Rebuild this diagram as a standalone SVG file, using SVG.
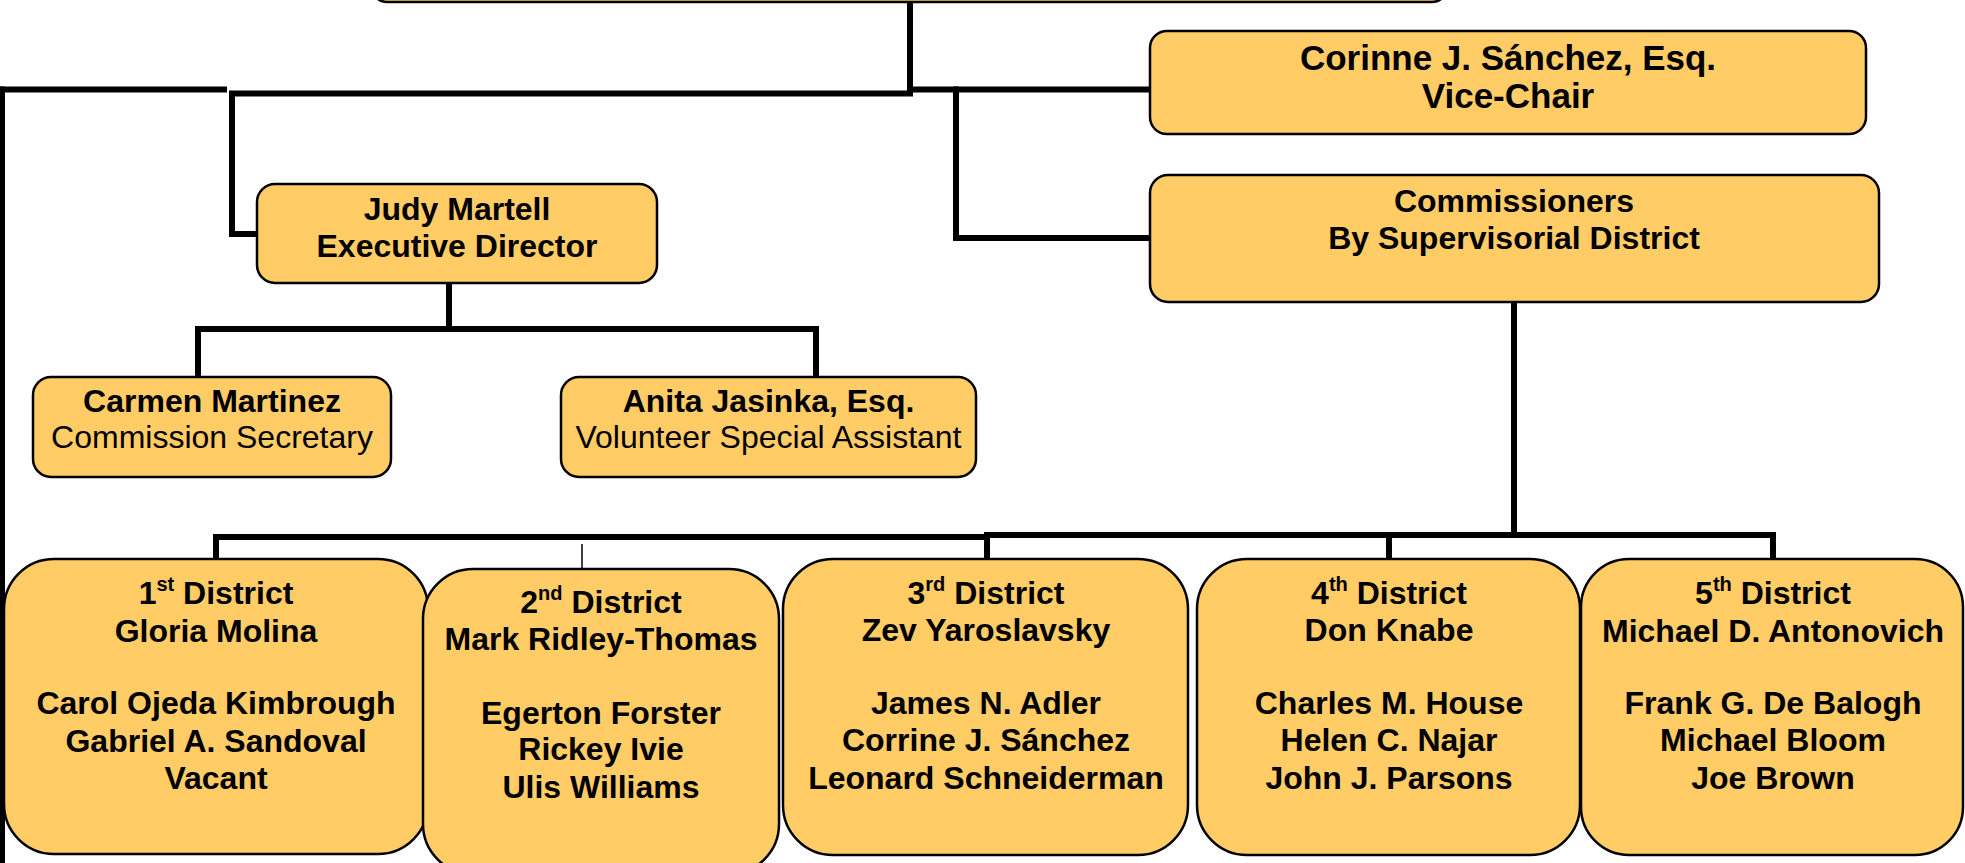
<svg xmlns="http://www.w3.org/2000/svg" width="1965" height="863" viewBox="0 0 1965 863">
<style>
.box{fill:#FFCC66;stroke:#000;stroke-width:2.5}
.ln{stroke:#000;stroke-width:6;fill:none;stroke-linecap:square}
.thin{stroke:#000;stroke-width:1.5;fill:none}
text{font-family:"Liberation Sans",Arial,Helvetica,sans-serif;font-size:32px;text-anchor:middle;fill:#000}
.b{font-weight:bold}
.big{font-size:35px}
.sup{font-size:20px}
</style>
<rect width="1965" height="863" fill="#fff"/>
<g id="connectors">
<path class="ln" d="M910,0 V93.5 H232 V234 H257"/>
<path class="ln" d="M0,89.5 H224"/>
<path class="ln" d="M2,89.5 V863"/>
<path class="ln" d="M910,89.5 H1150"/>
<path class="ln" d="M956,89.5 V238 H1150"/>
<path class="ln" d="M449,283 V329 M198,377 V329 H816 V377"/>
<path class="ln" d="M1514,302 V535"/>
<path class="ln" d="M216,559 V537 H987 M987,559 V535 H1773 V559 M1389,535 V559"/>
<path class="thin" d="M582,544 V569"/>
</g>
<g id="top"><rect class="box" x="372" y="-60" width="1075" height="62" rx="15"/></g>
<g id="vicechair">
<rect class="box" x="1150" y="31" width="716" height="103" rx="17"/>
<text class="b big" x="1508" y="70">Corinne J. Sánchez, Esq.</text>
<text class="b big" x="1508" y="108">Vice-Chair</text>
</g>
<g id="commissioners">
<rect class="box" x="1150" y="175" width="729" height="127" rx="18"/>
<text class="b" x="1514" y="212">Commissioners</text>
<text class="b" x="1514" y="249">By Supervisorial District</text>
</g>
<g id="director">
<rect class="box" x="257" y="184" width="400" height="99" rx="18"/>
<text class="b" x="457" y="220">Judy Martell</text>
<text class="b" x="457" y="257">Executive Director</text>
</g>
<g id="secretary">
<rect class="box" x="33" y="377" width="358" height="100" rx="18"/>
<text class="b" x="212" y="412">Carmen Martinez</text>
<text x="212" y="448">Commission Secretary</text>
</g>
<g id="assistant">
<rect class="box" x="561" y="377" width="415" height="100" rx="18"/>
<text class="b" x="768.5" y="412">Anita Jasinka, Esq.</text>
<text x="768.5" y="448">Volunteer Special Assistant</text>
</g>
<g id="district1">
<rect class="box" x="4" y="559" width="424" height="295" rx="50"/>
<text class="b" x="216" y="604">1<tspan class="sup" dy="-13">st</tspan><tspan dy="13"> District</tspan></text>
<text class="b" x="216" y="642">Gloria Molina</text>
<text class="b" x="216" y="714">Carol Ojeda Kimbrough</text>
<text class="b" x="216" y="752">Gabriel A. Sandoval</text>
<text class="b" x="216" y="789">Vacant</text>
</g>
<g id="district2">
<rect class="box" x="423" y="569" width="356" height="305" rx="50"/>
<text class="b" x="601" y="613">2<tspan class="sup" dy="-13">nd</tspan><tspan dy="13"> District</tspan></text>
<text class="b" x="601" y="650">Mark Ridley-Thomas</text>
<text class="b" x="601" y="724">Egerton Forster</text>
<text class="b" x="601" y="760">Rickey Ivie</text>
<text class="b" x="601" y="798">Ulis Williams</text>
</g>
<g id="district3">
<rect class="box" x="783" y="559" width="405" height="296" rx="50"/>
<text class="b" x="986" y="604">3<tspan class="sup" dy="-13">rd</tspan><tspan dy="13"> District</tspan></text>
<text class="b" x="986" y="641">Zev Yaroslavsky</text>
<text class="b" x="986" y="714">James N. Adler</text>
<text class="b" x="986" y="751">Corrine J. Sánchez</text>
<text class="b" x="986" y="789">Leonard Schneiderman</text>
</g>
<g id="district4">
<rect class="box" x="1197" y="559" width="383" height="296" rx="50"/>
<text class="b" x="1389" y="604">4<tspan class="sup" dy="-13">th</tspan><tspan dy="13"> District</tspan></text>
<text class="b" x="1389" y="641">Don Knabe</text>
<text class="b" x="1389" y="714">Charles M. House</text>
<text class="b" x="1389" y="751">Helen C. Najar</text>
<text class="b" x="1389" y="789">John J. Parsons</text>
</g>
<g id="district5">
<rect class="box" x="1581" y="559" width="382" height="296" rx="48"/>
<text class="b" x="1773" y="604">5<tspan class="sup" dy="-13">th</tspan><tspan dy="13"> District</tspan></text>
<text class="b" x="1773" y="642">Michael D. Antonovich</text>
<text class="b" x="1773" y="714">Frank G. De Balogh</text>
<text class="b" x="1773" y="751">Michael Bloom</text>
<text class="b" x="1773" y="789">Joe Brown</text>
</g>
</svg>
